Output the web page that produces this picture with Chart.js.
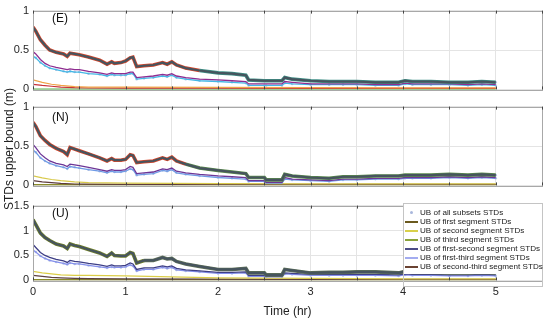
<!DOCTYPE html>
<html>
<head>
<meta charset="utf-8">
<script src="https://cdn.jsdelivr.net/npm/chart.js@4"></script>
<style>
  body { margin: 0; background: #fff; font-family: "Liberation Sans", Arial, sans-serif; }
  #wrap { position: relative; width: 550px; height: 324px; overflow: hidden; }
  canvas { position: absolute; left: 0; }
  .tag { position: absolute; font-size: 12px; color: #111; }
  #ylab { position: absolute; left: 9px; top: 149px; font-size: 12px; color: #222;
          transform: translate(-50%, -50%) rotate(-90deg); white-space: nowrap; }
  #legend { position: absolute; left: 403px; top: 203px; width: 138px; height: 82px;
            border: 1px solid #c4c4c4; }
  #legend .inner { background: #fff; padding: 4px 0 3px 0; }
  #legend .row { height: 9px; line-height: 9px; font-size: 8.1px; color: #1a1a1a; white-space: nowrap; position: relative; padding-left: 16px; }
  #legend .row i { position: absolute; left: 1px; top: 4px; width: 13px; height: 2px; }
  #legend .row b { position: absolute; left: 6px; top: 3px; width: 3px; height: 3px; border-radius: 2px; }
</style>
</head>
<body>
<div id="wrap">
  <canvas id="cE" width="550" height="100" style="top:0px"></canvas>
  <canvas id="cN" width="550" height="100" style="top:96px"></canvas>
  <canvas id="cU" width="550" height="129" style="top:195px"></canvas>
  <div class="tag" style="left:52px;top:11px">(E)</div>
  <div class="tag" style="left:52px;top:110px">(N)</div>
  <div class="tag" style="left:52px;top:206px">(U)</div>
  <div id="ylab">STDs upper bound (m)</div>
  <div id="legend"><div class="inner" id="legendRows"></div></div>
</div>
<script>
// time axis (hr) for the upper bound curves
const time = [0, 0.03, 0.08, 0.13, 0.18, 0.25, 0.33, 0.37, 0.40, 0.45,
  0.5, 0.6, 0.72, 0.8, 0.85, 0.88, 0.95, 1.0, 1.05, 1.08,
  1.12, 1.2, 1.3, 1.4, 1.45, 1.5, 1.55, 1.65, 1.8, 2.0,
  2.15, 2.3, 2.33, 2.5, 2.52, 2.69, 2.72, 2.8, 3.0, 3.2,
  3.35, 3.5, 3.7, 3.95, 4.02, 4.1, 4.3, 4.5, 4.7, 4.85, 5.0];
// coarser time axis for single segment curves
const lowTime = [0, 0.1, 0.2, 0.3, 0.45, 0.6, 1.0, 2.0, 3.0, 4.0, 5.0];

// East
const eAll = [0.79,0.74,0.63,0.56,0.50,0.47,0.45,0.42,0.46,0.45,0.44,0.41,0.37,0.32,0.35,0.33,0.34,0.36,0.40,0.41,
  0.29,0.30,0.31,0.34,0.32,0.35,0.31,0.27,0.24,0.21,0.20,0.18,0.12,0.11,0.11,0.11,0.15,0.13,0.11,0.10,
  0.10,0.10,0.09,0.09,0.11,0.10,0.10,0.09,0.09,0.10,0.09];
const eFirstSecond = [0.48,0.45,0.38,0.33,0.30,0.28,0.26,0.25,0.26,0.25,0.25,0.23,0.21,0.19,0.21,0.20,0.20,0.20,0.22,0.22,
  0.15,0.16,0.17,0.19,0.18,0.20,0.17,0.15,0.13,0.12,0.11,0.10,0.07,0.07,0.07,0.07,0.10,0.09,0.07,0.07,
  0.07,0.07,0.06,0.06,0.08,0.07,0.07,0.07,0.06,0.07,0.06];
const eFirstThird = [0.42,0.40,0.34,0.30,0.27,0.25,0.23,0.22,0.23,0.22,0.22,0.20,0.19,0.17,0.19,0.18,0.18,0.18,0.20,0.20,
  0.13,0.14,0.15,0.17,0.16,0.18,0.15,0.13,0.11,0.10,0.09,0.08,0.05,0.05,0.05,0.05,0.08,0.07,0.06,0.06,
  0.06,0.06,0.05,0.05,0.07,0.06,0.06,0.06,0.05,0.06,0.05];
const eFirst = [0.12,0.09,0.065,0.05,0.035,0.03,0.028,0.025,0.022,0.02,0.02];
const eSecond = [0.065,0.05,0.04,0.03,0.022,0.018,0.016,0.015,0.013,0.012,0.012];
const eThird = [0.003,0.003,0.003,0.003,0.003,0.003,0.003,0.003,0.003,0.003,0.003];

// North
const nAll = [0.80,0.75,0.63,0.57,0.52,0.47,0.43,0.39,0.48,0.46,0.44,0.40,0.35,0.31,0.34,0.32,0.32,0.33,0.39,0.38,
  0.29,0.30,0.31,0.35,0.33,0.36,0.31,0.27,0.22,0.19,0.17,0.15,0.10,0.10,0.07,0.07,0.14,0.12,0.10,0.09,
  0.11,0.11,0.12,0.12,0.13,0.13,0.13,0.14,0.13,0.14,0.13];
const nFirstSecond = [0.52,0.48,0.40,0.35,0.31,0.28,0.26,0.24,0.27,0.26,0.25,0.23,0.20,0.18,0.20,0.19,0.19,0.20,0.24,0.23,
  0.15,0.16,0.17,0.21,0.20,0.22,0.18,0.16,0.14,0.12,0.11,0.10,0.06,0.06,0.04,0.04,0.10,0.08,0.07,0.06,
  0.08,0.08,0.09,0.09,0.10,0.10,0.10,0.11,0.10,0.11,0.10];
const nFirstThird = [0.45,0.42,0.35,0.31,0.28,0.25,0.23,0.21,0.24,0.23,0.22,0.20,0.18,0.16,0.18,0.17,0.17,0.18,0.21,0.20,
  0.13,0.14,0.15,0.19,0.18,0.20,0.16,0.14,0.12,0.10,0.09,0.08,0.05,0.05,0.03,0.03,0.08,0.07,0.06,0.05,
  0.07,0.07,0.08,0.08,0.09,0.09,0.09,0.10,0.09,0.10,0.09];
const nFirst = [0.12,0.095,0.075,0.06,0.045,0.035,0.028,0.022,0.02,0.02,0.02];
const nSecond = [0.06,0.045,0.035,0.025,0.018,0.015,0.012,0.012,0.012,0.012,0.012];
const nThird = [0.008,0.008,0.008,0.008,0.008,0.008,0.008,0.008,0.008,0.008,0.008];

// Up
const uAll = [1.22,1.12,0.95,0.86,0.80,0.73,0.69,0.64,0.73,0.70,0.68,0.62,0.55,0.48,0.55,0.50,0.49,0.49,0.56,0.54,
  0.35,0.40,0.40,0.46,0.43,0.44,0.38,0.33,0.28,0.22,0.22,0.24,0.15,0.15,0.11,0.11,0.22,0.20,0.15,0.16,
  0.16,0.17,0.17,0.15,0.18,0.16,0.16,0.15,0.15,0.16,0.15];
const uFirstSecond = [0.72,0.66,0.56,0.50,0.46,0.42,0.39,0.36,0.40,0.38,0.37,0.34,0.31,0.28,0.31,0.29,0.29,0.30,0.35,0.33,
  0.22,0.25,0.25,0.29,0.27,0.29,0.24,0.21,0.19,0.16,0.16,0.17,0.10,0.10,0.08,0.08,0.15,0.14,0.12,0.12,
  0.12,0.12,0.12,0.11,0.13,0.12,0.12,0.11,0.11,0.12,0.11];
const uFirstThird = [0.61,0.57,0.49,0.44,0.40,0.37,0.34,0.32,0.35,0.33,0.33,0.30,0.27,0.25,0.27,0.26,0.26,0.27,0.31,0.29,
  0.19,0.22,0.22,0.26,0.24,0.26,0.21,0.19,0.17,0.14,0.14,0.15,0.08,0.08,0.07,0.07,0.13,0.12,0.10,0.10,
  0.10,0.10,0.10,0.09,0.11,0.10,0.10,0.09,0.09,0.10,0.09];
const uFirst = [0.18,0.15,0.13,0.11,0.10,0.10,0.09,0.05,0.04,0.03,0.03];
const uSecond = [0.10,0.08,0.06,0.05,0.04,0.035,0.03,0.025,0.02,0.02,0.02];
const uThird = [0.012,0.012,0.012,0.012,0.012,0.012,0.012,0.012,0.012,0.012,0.012];

const legendLabels = ["UB of all subsets STDs", "UB of first segment STDs", "UB of second segment STDs",
  "UB of third segment STDs", "UB of first-second segment STDs", "UB of first-third segment STDs",
  "UB of second-third segment STDs"];
const legendColors = ["#a9b7dc", "#6b5a1e", "#d9d04a", "#8aa33a", "#4b4b86", "#a3acf0", "#6a4232"];

function pts(t, v) {
  return t.map((x, i) => ({ x: x, y: v[i] }));
}

function line(t, v, color, width, order) {
  return { data: pts(t, v), borderColor: color, borderWidth: width, pointRadius: 0,
           tension: 0, fill: false, order: order };
}

// box around the plot area with small inward ticks, like the original figure
const boxPlugin = {
  id: "box",
  afterDraw(chart) {
    const a = chart.chartArea, ctx = chart.ctx;
    ctx.save();
    ctx.strokeStyle = "#a8a8a8";
    ctx.lineWidth = 1;
    ctx.strokeRect(Math.round(a.left) + 0.5, Math.round(a.top) + 0.5,
      Math.round(a.right - a.left), Math.round(a.bottom - a.top));
    ctx.strokeStyle = "#444";
    chart.scales.x.ticks.forEach((tk) => {
      const px = Math.round(chart.scales.x.getPixelForValue(tk.value)) + 0.5;
      ctx.beginPath();
      ctx.moveTo(px, a.bottom); ctx.lineTo(px, a.bottom - 3);
      ctx.moveTo(px, a.top); ctx.lineTo(px, a.top + 3);
      ctx.stroke();
    });
    ctx.restore();
  },
};

function makePanel(id, cfg) {
  const all = cfg.all;
  const datasets = [
    // all subsets as faint points behind the curves
    { type: "scatter", data: pts(time, all).concat(pts(time, cfg.mid2)), backgroundColor: "#b5c3e0",
      borderWidth: 0, pointRadius: 1.3, order: 20 },
    line(lowTime, cfg.low3, cfg.c3, 1.5, 9),
    line(lowTime, cfg.low2, cfg.c2, 1.2, 8),
    line(lowTime, cfg.low1, cfg.c1, 1.2, 7),
    line(time, cfg.mid2, cfg.cm2, 1.3, 6),
    line(time, cfg.mid1, cfg.cm1, 1.3, 5),
    { data: pts(time, all), borderWidth: 3.6, pointRadius: 0, tension: 0, order: 2,
      segment: { borderColor: (c) => (c.p0.parsed.x < cfg.split ? cfg.edgeA : cfg.edgeB) } },
    line(time, all, "#46545e", 2.2, 1),
  ];
  return new Chart(document.getElementById(id), {
    type: "line",
    data: { datasets: datasets },
    plugins: [boxPlugin],
    options: {
      responsive: false,
      animation: false,
      layout: { padding: { top: 10, right: 8, bottom: cfg.padBottom, left: 0 } },
      plugins: { legend: { display: false }, tooltip: { enabled: false } },
      scales: {
        x: {
          type: "linear", min: 0, max: 5.5,
          grid: { color: "#e4e4e4", drawTicks: false },
          border: { display: false },
          ticks: {
            display: cfg.showX, stepSize: 0.5, autoSkip: false, padding: 5,
            color: "#262626", font: { family: "Liberation Sans", size: 11 },
            callback: (v) => (Number.isInteger(v) && v <= 5 ? String(v) : ""),
          },
          title: { display: cfg.showX, text: "Time (hr)", color: "#222", padding: { top: 1, bottom: 0 },
                   font: { family: "Liberation Sans", size: 12 } },
        },
        y: {
          min: 0, max: cfg.yMax,
          afterFit: (s) => { s.width = 33; },
          grid: { color: "#e4e4e4", drawTicks: false },
          border: { display: false },
          ticks: { stepSize: 0.5, padding: 4, color: "#262626",
                   font: { family: "Liberation Sans", size: 11 },
                   callback: (v) => String(v) },
        },
      },
    },
  });
}

makePanel("cE", { all: eAll, mid1: eFirstSecond, mid2: eFirstThird, low1: eFirst, low2: eSecond, low3: eThird,
  cm1: "#8e2c90", cm2: "#43b8e6", c1: "#f0a347", c2: "#c8323a", c3: "#58b04a",
  edgeA: "#d9482c", edgeB: "#3f8f86", split: 1.7, yMax: 1, showX: false, padBottom: 8 });
makePanel("cN", { all: nAll, mid1: nFirstSecond, mid2: nFirstThird, low1: nFirst, low2: nSecond, low3: nThird,
  cm1: "#6d3596", cm2: "#6f9be6", c1: "#d8c94a", c2: "#5e3b3b", c3: "#8a8a2a",
  edgeA: "#d9482c", edgeB: "#5b8a4e", split: 1.6, yMax: 1, showX: false, padBottom: 7 });
makePanel("cU", { all: uAll, mid1: uFirstSecond, mid2: uFirstThird, low1: uFirst, low2: uSecond, low3: uThird,
  cm1: "#3e3f86", cm2: "#8590ec", c1: "#dccd48", c2: "#5e4040", c3: "#8a8a2a",
  edgeA: "#6f7f2a", edgeB: "#5f7058", split: 1.2, yMax: 1.5, showX: true, padBottom: 5 });

// legend inside the lower panel
const rows = document.getElementById("legendRows");
legendLabels.forEach((lab, i) => {
  const r = document.createElement("div");
  r.className = "row";
  r.innerHTML = (i === 0 ? `<b style="background:${legendColors[i]}"></b>`
                         : `<i style="background:${legendColors[i]}"></i>`) + lab;
  rows.appendChild(r);
});
</script>
</body>
</html>
